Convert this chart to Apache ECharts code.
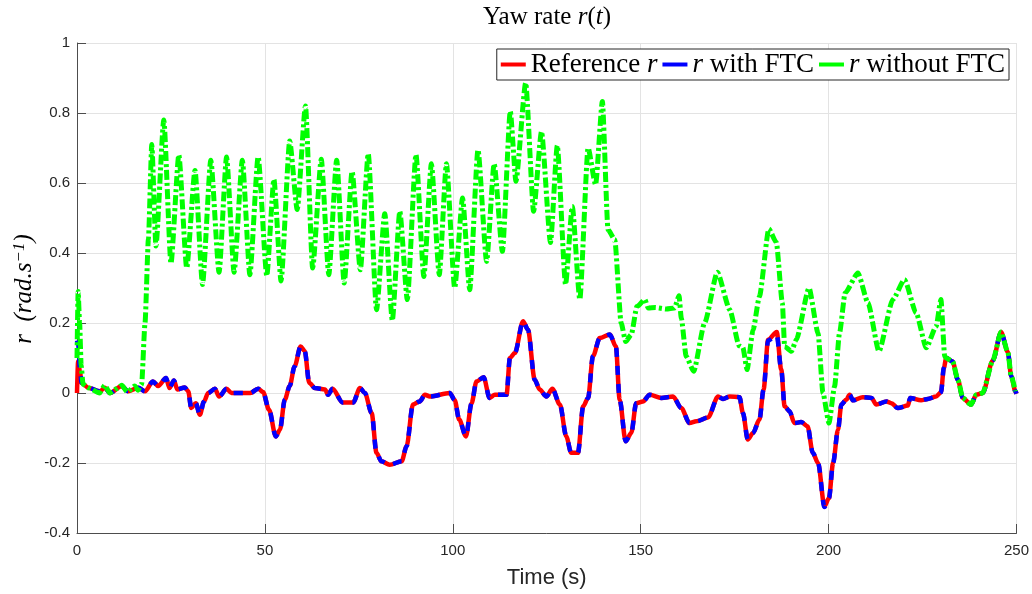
<!DOCTYPE html>
<html>
<head>
<meta charset="utf-8">
<title>Yaw rate r(t)</title>
<script src="https://cdn.jsdelivr.net/npm/echarts@6/dist/echarts.min.js"></script>
<style>
    html, body { margin: 0; padding: 0; background: #fff; }
    #chart { width: 1032px; height: 594px; }
</style>
</head>
<body>
<div id="chart"></div>
<script>
    // yaw rate (rad/s) against time (s)
    var refTime = [
        0, 0.3, 0.8, 1.2, 3, 6.1, 7.4, 8.8, 11.9, 13.6,
        16.3, 18.1, 20.2, 21.6, 23.7, 24.6, 25.8, 26.7, 28.7, 29.6,
        30.4, 31.6, 32.7, 33.8, 34.9, 36.7, 37.8, 39.8, 41.1, 46.1,
        48.2, 49.5, 51.1, 52.9, 54.0, 55.3, 56.6, 57.9, 59.5, 60.6,
        61.8, 63.3, 66.0, 66.8, 68.0, 70.7, 73.5, 75.3, 76.6, 78.4,
        79.7, 81.0, 83.2, 86.4, 87.7, 89.4, 91.2, 92.6, 93.9, 99.2,
        100.5, 101.7, 103.5, 105.0, 106.3, 108.2, 109.8, 111.2, 114.3, 115.2,
        116.5, 118.7, 120.0, 121.8, 123.1, 124.9, 126.5, 128.5, 130.2, 131.5,
        133.3, 134.7, 136.0, 137.3, 139.1, 141.8, 143.4, 144.4, 146.0, 147.5,
        148.8, 150.6, 152.4, 155.5, 158.6, 160.8, 163.0, 164.8, 167.9, 170.6,
        171.9, 173.7, 176.3, 177.2, 178.5, 179.9, 181.6, 182.7, 183.9, 186.2,
        187.4, 188.3, 189.6, 190.9, 192.7, 194.4, 195.8, 197.2, 198.9, 200.1,
        201.2, 202.5, 203.4, 204.7, 205.6, 206.5, 209.1, 211.4, 212.7, 215.4,
        216.7, 218.4, 221.1, 221.7, 224.6, 226.4, 228.6, 229.9, 230.7, 231.3,
        233.0, 234.4, 235.7, 237.9, 239.3, 241.0, 243.7, 245.9, 247.7, 248.6,
        249.7, 250
    ];
    var refValues = [
        0, 0.09, 0.06, 0.029, 0.015, 0.005, 0.015, 0, 0.02, 0.005,
        0.015, 0.005, 0.033, 0.02, 0.043, 0.014, 0.036, 0.01, 0.016, 0.005,
        -0.043, -0.029, -0.062, -0.024, 0, 0.012, -0.01, 0.012, 0, 0,
        0.012, 0.003, -0.048, -0.124, -0.105, -0.019, 0.02, 0.076, 0.133, 0.12,
        0.029, 0.014, 0.01, -0.005, 0.012, -0.027, -0.027, 0.014, 0, -0.057,
        -0.171, -0.195, -0.205, -0.195, -0.152, -0.033, -0.024, -0.005, -0.01, 0,
        -0.02, -0.076, -0.124, -0.029, 0.033, 0.045, -0.014, -0.005, -0.005, 0.1,
        0.114, 0.205, 0.181, 0.038, 0.01, -0.01, 0.012, -0.033, -0.124, -0.171,
        -0.171, -0.038, -0.014, 0.105, 0.157, 0.167, 0.133, -0.019, -0.138, -0.114,
        -0.029, -0.024, -0.005, -0.014, -0.01, -0.043, -0.086, -0.081, -0.07, -0.01,
        -0.017, -0.01, -0.012, -0.057, -0.133, -0.114, -0.076, 0.01, 0.152, 0.174,
        0.067, -0.038, -0.052, -0.086, -0.083, -0.095, -0.171, -0.2, -0.324, -0.3,
        -0.2, -0.105, -0.033, -0.019, -0.005, -0.021, -0.012, -0.014, -0.033, -0.024,
        -0.029, -0.043, -0.036, -0.014, -0.021, -0.017, -0.01, 0.002, 0.073, 0.1,
        0.09, 0.038, -0.014, -0.033, -0.005, 0, 0.093, 0.174, 0.117, 0.048,
        0.005, -0.002
    ];
    // with FTC: same time stamps as the reference
    var ftcValues = [
        0.15, 0.14, 0.07, 0.03, 0.015, 0.005, 0.015, 0, 0.02, 0.005,
        0.015, 0.005, 0.033, 0.02, 0.043, 0.014, 0.036, 0.01, 0.016, 0.005,
        -0.043, -0.029, -0.062, -0.024, 0, 0.012, -0.01, 0.012, 0, 0,
        0.012, 0.003, -0.048, -0.124, -0.105, -0.019, 0.02, 0.076, 0.133, 0.12,
        0.029, 0.014, 0.01, -0.005, 0.012, -0.027, -0.027, 0.014, 0, -0.057,
        -0.171, -0.195, -0.205, -0.195, -0.152, -0.033, -0.024, -0.005, -0.01, 0,
        -0.02, -0.076, -0.124, -0.029, 0.033, 0.045, -0.014, -0.005, -0.005, 0.1,
        0.114, 0.205, 0.181, 0.038, 0.01, -0.01, 0.012, -0.033, -0.124, -0.171,
        -0.171, -0.038, -0.014, 0.105, 0.157, 0.167, 0.133, -0.019, -0.138, -0.114,
        -0.029, -0.024, -0.005, -0.014, -0.01, -0.043, -0.086, -0.081, -0.07, -0.01,
        -0.017, -0.01, -0.012, -0.057, -0.133, -0.114, -0.076, 0.01, 0.15, 0.165,
        0.067, -0.038, -0.052, -0.086, -0.083, -0.095, -0.171, -0.2, -0.326, -0.3,
        -0.2, -0.105, -0.033, -0.019, -0.005, -0.021, -0.012, -0.014, -0.033, -0.024,
        -0.029, -0.043, -0.036, -0.014, -0.021, -0.017, -0.01, 0.002, 0.073, 0.1,
        0.09, 0.038, -0.014, -0.033, -0.005, 0, 0.093, 0.174, 0.117, 0.048,
        0.005, -0.002
    ];
    var noFtcTime = [
        0, 0.3, 0.7, 1.1, 1.6, 3, 6, 7.4, 8.7, 10.5,
        11.9, 13.4, 15.4, 16.2, 17.2, 18.1, 19.0, 19.9, 21.0, 23.1,
        25.0, 27.1, 29.2, 31.4, 33.4, 35.6, 37.8, 39.8, 41.8, 44.0,
        46.0, 48.2, 50.5, 52.4, 54.3, 56.6, 58.6, 60.8, 62.7, 65.0,
        67.0, 69.1, 71.1, 73.2, 75.4, 77.5, 79.7, 81.9, 83.9, 85.9,
        87.9, 90.2, 92.3, 94.3, 96.4, 98.3, 100.5, 102.6, 104.5, 106.7,
        109.0, 111.0, 113.2, 115.3, 116.8, 119.4, 121.5, 123.6, 126.0, 127.8,
        130.0, 131.8, 133.8, 136.0, 138.0, 139.8, 141.3, 143.1, 144.8, 146.0,
        147.5, 149.0, 151.1, 152.0, 153.9, 156.8, 159.0, 160.2, 160.8, 162.1,
        164.1, 167.0, 170.4, 173.7, 176.2, 177.2, 178.3, 179.9, 181.6, 184.1,
        186.1, 187.7, 188.3, 190.1, 191.4, 194.8, 197.2, 198.5, 200.1, 201.6,
        202.9, 204.4, 207.8, 210.5, 213.4, 217.1, 220.2, 223.3, 226.0, 228.6,
        229.9, 230.9, 231.3, 233.0, 234.4, 235.7, 237.9, 239.3, 241.0, 243.7,
        245.9, 247.7, 248.6, 249.7
    ];
    var noFtcValues = [
        0.1, 0.29, 0.2, 0.08, 0.025, 0.015, 0, 0.022, 0, 0.012,
        0.022, 0.003, 0.02, 0.008, 0.025, 0.2, 0.44, 0.71, 0.42, 0.78,
        0.37, 0.68, 0.357, 0.636, 0.31, 0.665, 0.345, 0.674, 0.345, 0.665,
        0.338, 0.675, 0.335, 0.61, 0.32, 0.72, 0.524, 0.82, 0.357, 0.668,
        0.338, 0.665, 0.314, 0.633, 0.352, 0.684, 0.238, 0.512, 0.207, 0.519,
        0.267, 0.681, 0.333, 0.655, 0.338, 0.655, 0.3, 0.557, 0.295, 0.695,
        0.376, 0.655, 0.405, 0.805, 0.605, 0.886, 0.519, 0.747, 0.43, 0.707,
        0.31, 0.533, 0.267, 0.7, 0.595, 0.833, 0.467, 0.438, 0.2, 0.147,
        0.167, 0.247, 0.267, 0.243, 0.244, 0.24, 0.243, 0.278, 0.214, 0.105,
        0.062, 0.2, 0.345, 0.238, 0.135, 0.13, 0.067, 0.18, 0.276, 0.469,
        0.43, 0.257, 0.133, 0.119, 0.152, 0.3, 0.171, 0, -0.086, 0.019,
        0.171, 0.286, 0.343, 0.257, 0.119, 0.267, 0.324, 0.229, 0.129, 0.19,
        0.267, 0.105, 0.1, 0.09, 0.038, -0.014, -0.033, -0.005, 0, 0.093,
        0.174, 0.117, 0.048, 0.005
    ];
    var seriesNames = ["Reference r", "r with FTC", "r without FTC"];

    function pairs(t, v) {
        return t.map(function (x, i) {
            return [x, v[i]];
        });
    }

    var serif = "Liberation Serif";
    var sans = "Liberation Sans";
    var axisColor = "#4d4d4d";

    var chart = echarts.init(document.getElementById("chart"));
    var option = {
        animation: false,
        backgroundColor: "#fff",
        title: {
            text: "{n|Yaw rate }{i|r}{n|(}{i|t}{n|)}",
            left: 547,
            top: 5,
            padding: 0,
            textAlign: "center",
            textStyle: {
                fontWeight: "normal",
                rich: {
                    n: { fontFamily: serif, fontSize: 25, fontWeight: "normal", color: "#000" },
                    i: { fontFamily: serif, fontSize: 25, fontWeight: "normal", fontStyle: "italic", color: "#000" },
                },
            },
        },
        legend: {
            data: seriesNames,
            right: 23,
            top: 49,
            padding: [2, 4, 2, 4],
            itemGap: 5,
            itemWidth: 25,
            itemHeight: 4,
            icon: "rect",
            selectedMode: false,
            backgroundColor: "#fff",
            borderColor: "#262626",
            borderWidth: 1,
            borderRadius: 0,
            formatter: function (name) {
                if (name === "Reference r") return "{n|Reference }{i|r}";
                if (name === "r with FTC") return "{i|r}{n| with FTC}";
                return "{i|r}{n| without FTC}";
            },
            textStyle: {
                rich: {
                    n: { fontFamily: serif, fontSize: 27, color: "#000" },
                    i: { fontFamily: serif, fontSize: 27, fontStyle: "italic", color: "#000" },
                },
            },
        },
        grid: {
            left: 77,
            right: 15,
            top: 43,
            bottom: 61,
        },
        xAxis: {
            type: "value",
            min: 0,
            max: 250,
            interval: 50,
            name: "Time (s)",
            nameLocation: "middle",
            nameGap: 34,
            nameTextStyle: { fontFamily: sans, fontSize: 22, color: "#262626" },
            axisLine: { onZero: false, lineStyle: { color: axisColor, width: 1 } },
            axisTick: { inside: true, length: 9, lineStyle: { color: axisColor } },
            axisLabel: { fontFamily: sans, fontSize: 15, color: "#262626", margin: 10 },
            splitLine: { show: true, lineStyle: { color: "#e3e3e3", width: 1 } },
        },
        yAxis: {
            type: "value",
            min: -0.4,
            max: 1,
            interval: 0.2,
            axisLine: { show: true, onZero: false, lineStyle: { color: axisColor, width: 1 } },
            axisTick: { show: true, inside: true, length: 9, lineStyle: { color: axisColor } },
            axisLabel: { fontFamily: sans, fontSize: 15, color: "#262626", margin: 7 },
            splitLine: { show: true, lineStyle: { color: "#e3e3e3", width: 1 } },
        },
        graphic: [
            {
                type: "text",
                x: 24,
                y: 289,
                rotation: Math.PI / 2,
                style: {
                    text: "{i|r  (rad.s}{s|\u22121}{i|)}",
                    align: "center",
                    verticalAlign: "middle",
                    fill: "#000",
                    rich: {
                        i: { fontFamily: serif, fontSize: 25, fontStyle: "italic", fill: "#000" },
                        s: { fontFamily: serif, fontSize: 17, fontStyle: "italic", fill: "#000", verticalAlign: "top" },
                    },
                },
            },
        ],
        series: [
            {
                name: seriesNames[0],
                type: "line",
                data: pairs(refTime, refValues),
                showSymbol: false,
                smooth: 0.3,
                smoothMonotone: "x",
                color: "#ff0000",
                lineStyle: { color: "#ff0000", width: 4.5 },
                z: 2,
            },
            {
                name: seriesNames[1],
                type: "line",
                data: pairs(refTime, ftcValues),
                showSymbol: false,
                smooth: 0.3,
                smoothMonotone: "x",
                color: "#0000ff",
                lineStyle: { color: "#0000ff", width: 4.5, type: [9, 9] },
                z: 3,
            },
            {
                name: seriesNames[2],
                type: "line",
                data: pairs(noFtcTime, noFtcValues),
                showSymbol: false,
                smooth: 0.2,
                smoothMonotone: "x",
                color: "#00ff00",
                lineStyle: { color: "#00ff00", width: 5, type: [10, 3, 3, 3] },
                z: 4,
            },
        ],
    };
    chart.setOption(option);
</script>
</body>
</html>
